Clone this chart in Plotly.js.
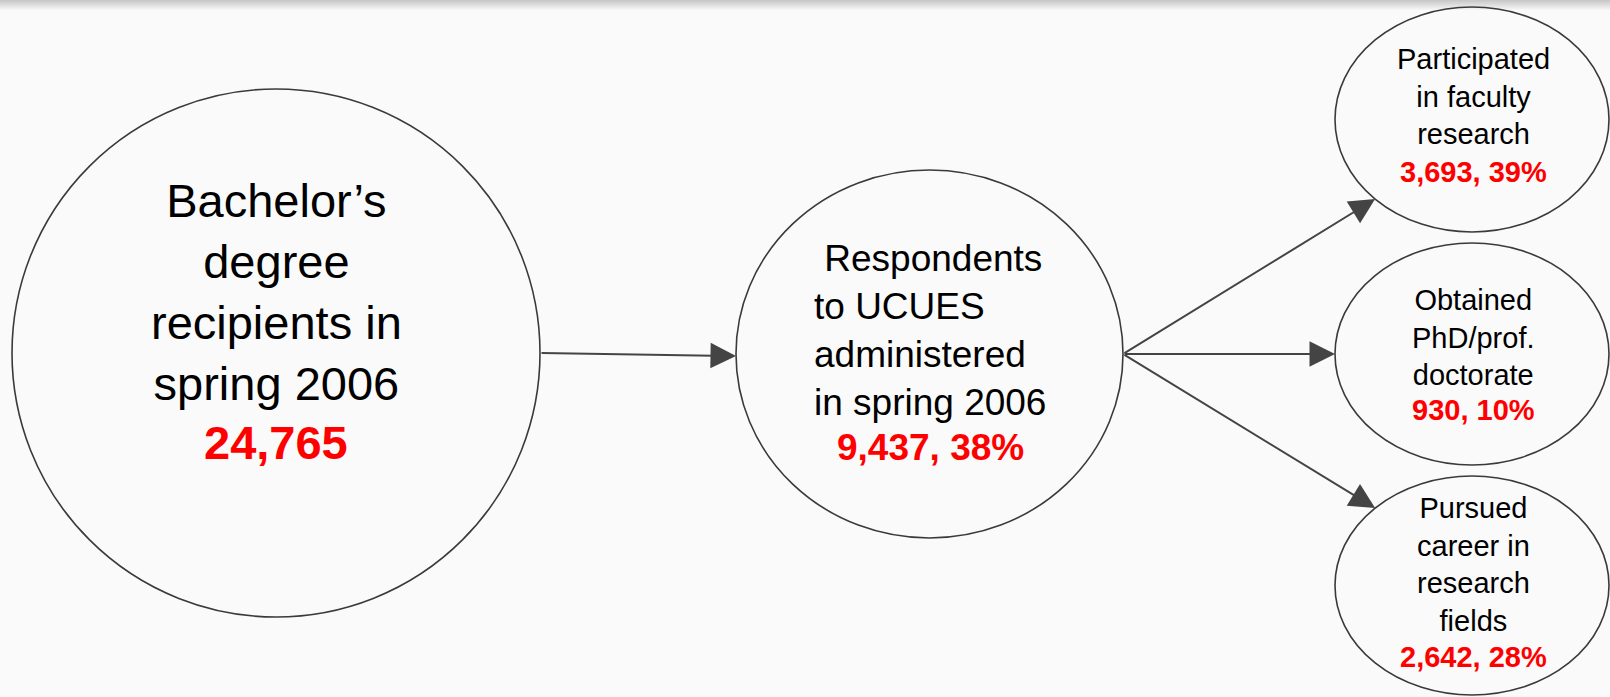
<!DOCTYPE html>
<html>
<head>
<meta charset="utf-8">
<script src="https://cdn.plot.ly/plotly-3.0.1.min.js"></script>
<style>
  html, body { margin: 0; padding: 0; background: #fafafa; }
  #chart { width: 1610px; height: 697px; }
</style>
</head>
<body>
<div id="chart"></div>
<script>
// ---- data ----
const nodeLabels = [
  ["Bachelor\u2019s", "degree", "recipients in", "spring 2006"],
  ["\u00A0Respondents", "to UCUES", "administered", "in spring 2006"],
  ["Participated", "in faculty", "research"],
  ["Obtained", "PhD/prof.", "doctorate"],
  ["Pursued", "career in", "research", "fields"]
];
const nodeCounts = [24765, 9437, 3693, 930, 2642];
const nodePercents = [null, 38, 39, 10, 28];
const edgeFrom = [0, 1, 1, 1];
const edgeTo = [1, 2, 3, 4];

// ---- layout geometry (pixels in a 1610 x 697 frame) ----
const nodeGeom = [
  {cx: 276, cy: 353, rx: 264, ry: 264},
  {cx: 929.5, cy: 354, rx: 193.5, ry: 184},
  {cx: 1472, cy: 119.5, rx: 137, ry: 112.5},
  {cx: 1472, cy: 354, rx: 137, ry: 111},
  {cx: 1472, cy: 585.5, rx: 137, ry: 109.5}
];
const nodeFont = [47, 37, 29, 29, 29];
// text placement: [x, y of black block centre, y of red line, align]
const labelPos = [
  {x: 276, y: 292, yr: 442, align: 'center'},
  {x: 812, y: 330, yr: 447, xr: 930, align: 'left'},
  {x: 1473, y: 96, yr: 172, align: 'center'},
  {x: 1473, y: 337, yr: 410, align: 'center'},
  {x: 1473, y: 564, yr: 657, align: 'center'}
];
// angle (deg) on source / target ellipse where each edge starts / ends
const edgeStartAng = [0, 0, 0, 0];
const edgeEndAng = [180, 225, 180, 135];
const edgeEndDy = [2, 0, 0, 0];

const FONT = 'Liberation Sans, Arial, Helvetica, sans-serif';
const LINE = '#3a3a3a';
const ARROW = '#444444';

function pt(g, angDeg) {
  const a = angDeg * Math.PI / 180;
  // y axis runs downward; 135deg = upper-left, 225deg = lower-left
  return {x: g.cx + g.rx * Math.cos(a), y: g.cy - g.ry * Math.sin(a)};
}

const shapes = [];
// top shadow band
for (let k = 1; k <= 10; k++) {
  shapes.push({type: 'rect', xref: 'x', yref: 'y', x0: 0, x1: 1610, y0: 0, y1: k,
    fillcolor: 'rgba(0,0,0,0.018)', line: {width: 0}, layer: 'below'});
}
nodeGeom.forEach(g => {
  shapes.push({type: 'circle', xref: 'x', yref: 'y',
    x0: g.cx - g.rx, x1: g.cx + g.rx, y0: g.cy - g.ry, y1: g.cy + g.ry,
    line: {color: LINE, width: 1.6}, fillcolor: 'rgba(0,0,0,0)'});
});

const annotations = [];
nodeLabels.forEach((lines, i) => {
  const p = labelPos[i];
  const fs = nodeFont[i];
  const countTxt = nodeCounts[i].toLocaleString('en-US');
  const redTxt = nodePercents[i] === null ? countTxt : countTxt + ', ' + nodePercents[i] + '%';
  annotations.push({
    xref: 'x', yref: 'y', x: p.x, y: p.y, showarrow: false,
    text: lines.join('<br>'), align: p.align,
    xanchor: p.align === 'left' ? 'left' : 'center', yanchor: 'middle',
    font: {family: FONT, size: fs, color: '#000000'}
  });
  annotations.push({
    xref: 'x', yref: 'y', x: p.xr !== undefined ? p.xr : p.x, y: p.yr, showarrow: false,
    text: '<b>' + redTxt + '</b>', xanchor: 'center', yanchor: 'middle',
    font: {family: FONT, size: fs, color: '#ff0000'}
  });
});

edgeFrom.forEach((f, i) => {
  const s = pt(nodeGeom[f], edgeStartAng[i]);
  const t = pt(nodeGeom[edgeTo[i]], edgeEndAng[i]);
  annotations.push({
    xref: 'x', yref: 'y', axref: 'x', ayref: 'y',
    x: t.x, y: t.y + edgeEndDy[i], ax: s.x, ay: s.y,
    text: '', showarrow: true, arrowhead: 2, arrowsize: 2.55, arrowwidth: 2,
    arrowcolor: ARROW, standoff: 0, startstandoff: 0
  });
});

const layout = {
  width: 1610, height: 697,
  margin: {l: 0, r: 0, t: 0, b: 0, pad: 0},
  paper_bgcolor: '#fafafa', plot_bgcolor: '#fafafa',
  xaxis: {range: [0, 1610], visible: false, fixedrange: true},
  yaxis: {range: [697, 0], visible: false, fixedrange: true},
  showlegend: false,
  shapes: shapes,
  annotations: annotations
};

Plotly.newPlot('chart', [], layout, {displayModeBar: false, staticPlot: true});
</script>
</body>
</html>
